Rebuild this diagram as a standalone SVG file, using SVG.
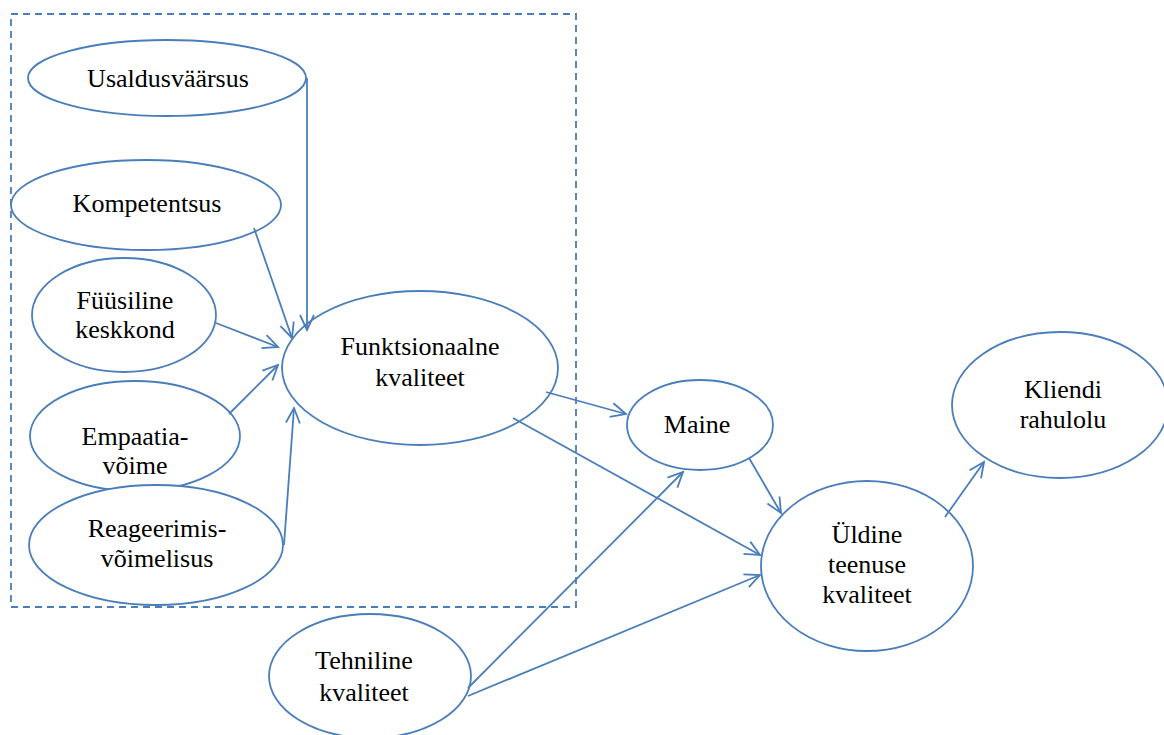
<svg xmlns="http://www.w3.org/2000/svg" width="1164" height="735" viewBox="0 0 1164 735">
  <defs>
    <marker id="arrow" markerUnits="userSpaceOnUse" markerWidth="20" markerHeight="20" viewBox="-18 -10 20 20" refX="0" refY="0" orient="auto">
      <path d="M -15 -7 L 0 0 L -15 7" fill="none" stroke="#4a7ebb" stroke-width="1.8"/>
    </marker>
  </defs>
  <style>
    .node ellipse { fill: #ffffff; stroke: #4a7ebb; stroke-width: 1.8; }
    .node text { font-family: "Liberation Serif", "Times New Roman", serif; font-size: 26px; fill: #000000; text-anchor: middle; }
    .edge { fill: none; stroke: #4a7ebb; stroke-width: 1.8; marker-end: url(#arrow); }
    .frame { fill: none; stroke: #4a7ebb; stroke-width: 1.8; stroke-dasharray: 7 5; }
  </style>
  <rect width="1164" height="735" fill="#ffffff"/>

  <!-- dashed boundary around the functional-quality dimensions -->
  <rect class="frame" x="11" y="14" width="565" height="593"/>

  <g id="usaldusvaarsus" class="node">
    <ellipse cx="167" cy="78" rx="139" ry="38"/>
    <text x="168" y="87">Usaldusväärsus</text>
  </g>
  <g id="kompetentsus" class="node">
    <ellipse cx="146" cy="205" rx="135" ry="45"/>
    <text x="147" y="212">Kompetentsus</text>
  </g>
  <g id="fuusiline-keskkond" class="node">
    <ellipse cx="124" cy="315" rx="92" ry="57"/>
    <text x="125" y="309">Füüsiline</text>
    <text x="125" y="338">keskkond</text>
  </g>
  <g id="empaatiavoime" class="node">
    <ellipse cx="135" cy="436" rx="105" ry="55"/>
    <text x="135" y="445">Empaatia-</text>
    <text x="135" y="474">võime</text>
  </g>
  <g id="reageerimisvoimelisus" class="node">
    <ellipse cx="156" cy="545" rx="127" ry="60"/>
    <text x="157" y="537">Reageerimis-</text>
    <text x="157" y="567">võimelisus</text>
  </g>
  <g id="funktsionaalne-kvaliteet" class="node">
    <ellipse cx="420" cy="368" rx="138" ry="77"/>
    <text x="420" y="355">Funktsionaalne</text>
    <text x="420" y="386">kvaliteet</text>
  </g>
  <g id="maine" class="node">
    <ellipse cx="700" cy="425" rx="73" ry="45"/>
    <text x="697" y="433">Maine</text>
  </g>
  <g id="kliendi-rahulolu" class="node">
    <ellipse cx="1060" cy="405" rx="108" ry="73"/>
    <text x="1063" y="398">Kliendi</text>
    <text x="1063" y="428">rahulolu</text>
  </g>
  <g id="uldine-teenuse-kvaliteet" class="node">
    <ellipse cx="867" cy="566" rx="106" ry="85"/>
    <text x="867" y="543">Üldine</text>
    <text x="867" y="573">teenuse</text>
    <text x="867" y="603">kvaliteet</text>
  </g>
  <g id="tehniline-kvaliteet" class="node">
    <ellipse cx="370" cy="676" rx="101" ry="62"/>
    <text x="364" y="669">Tehniline</text>
    <text x="364" y="701">kvaliteet</text>
  </g>

  <g id="connectors">
    <path class="edge" d="M 307 78 L 307 330"/>
    <path class="edge" d="M 254 228 L 292 338"/>
    <path class="edge" d="M 216 323 L 278 347"/>
    <path class="edge" d="M 229 414 L 278 365"/>
    <path class="edge" d="M 284 545 L 294 408"/>
    <path class="edge" d="M 546 392 L 626 414"/>
    <path class="edge" d="M 513 418 L 760 555"/>
    <path class="edge" d="M 749 458 L 781 513"/>
    <path class="edge" d="M 468 688 L 683 472"/>
    <path class="edge" d="M 468 696 L 760 575"/>
    <path class="edge" d="M 945 517 L 984 462"/>
  </g>
</svg>
